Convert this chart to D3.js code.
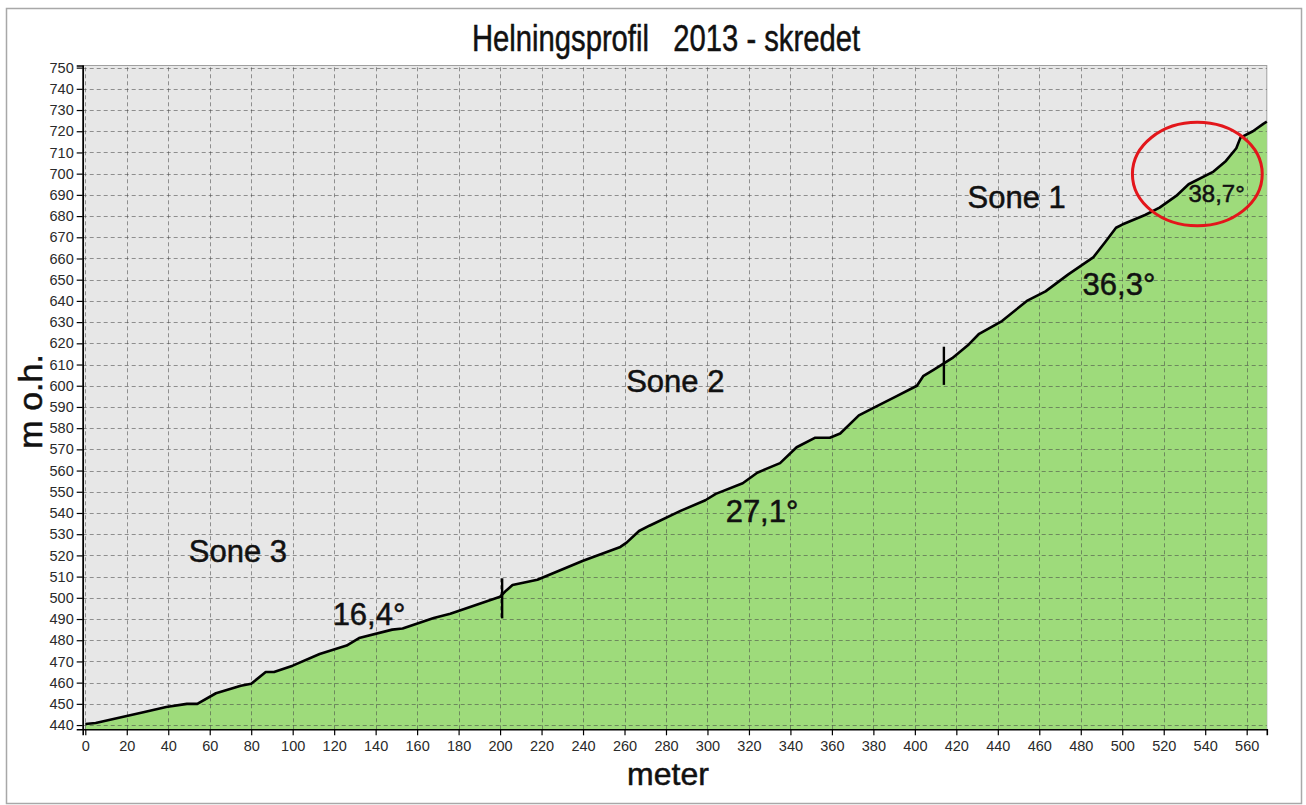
<!DOCTYPE html>
<html>
<head>
<meta charset="utf-8">
<script src="https://cdn.jsdelivr.net/npm/d3@7"></script>
<style>
  html, body { margin: 0; padding: 0; background: #fff; }
  text { font-family: "Liberation Sans", Arial, sans-serif; }
</style>
</head>
<body>
<div class="profil"></div>
<script>
// terrain profile: distance (m) and height (m o.h.)
var distance = [0, 5, 28, 39, 49, 54, 63, 75, 80, 87, 91, 100, 113, 126, 132, 148, 153, 168, 176, 200,
    203, 206, 218, 240, 258, 261, 267, 272, 287, 299, 304, 317, 324, 335, 343, 352, 359, 364, 373, 381,
    391, 401, 404, 409, 418, 426, 431, 442, 454, 463, 474, 486, 492, 497, 500, 511, 518, 526, 532, 544,
    550, 555, 557, 563, 568, 569.7];
var height = [440.5, 441, 446, 448.5, 450, 450, 455, 458.5, 459.5, 465, 465, 468, 473.5, 477.5, 481, 485, 485.5, 490.5, 492.5, 500.5,
    503.5, 506, 508.5, 517.5, 524, 526, 531.5, 534, 541, 546, 549, 554, 559, 563.5, 571, 575.5, 575.5, 577.5, 586, 590,
    595, 600, 604.5, 607.5, 613, 619.5, 624.5, 630.5, 640, 644.5, 652.5, 660.5, 668, 674.5, 676, 680.5, 684, 689.5, 695, 701,
    706, 712, 717, 720, 723.5, 724.5];

var xTicks = d3.range(0, 561, 20);
var yTicks = d3.range(440, 751, 10);

// zone labels and slope angles (data coords)
var labelText = ['Sone 3', 'Sone 2', 'Sone 1', '16,4°', '27,1°', '36,3°', '38,7°'];
var labelX = [73.6, 284.5, 449.1, 136.8, 326.3, 498.4, 545.5];
var labelY = [516.9, 597.2, 683.7, 487.2, 535.9, 642.8, 686.8];

// zone border marks
var markX = [201, 414];
var markLow = [490.3, 600.4];
var markHigh = [509.2, 618.4];

// red ring round the steepest part
var ringCenter = [536.2, 699.8];
var ringRadius = [31.3, 24.4];

var width = 1306;
var height2 = 805;
var margin = { top: 65.5, right: 39.2, bottom: 75.7, left: 82.7 };

var svg = d3.select('.profil')
    .append('svg')
    .attr('width', width)
    .attr('height', height2);

// outer frame
svg.append('rect')
    .attr('x', 6.5).attr('y', 8.5)
    .attr('width', 1295).attr('height', 795)
    .attr('fill', 'none')
    .attr('stroke', '#a8a8a8')
    .attr('stroke-width', 1.5);

var x = d3.scaleLinear()
    .domain([-1.25, 569.7])
    .range([margin.left, width - margin.right]);
var y = d3.scaleLinear()
    .domain([438, 751])
    .range([height2 - margin.bottom, margin.top]);

var points = distance.map(function(d, i) { return [d, height[i]]; });

// plot background
svg.append('rect')
    .attr('x', x.range()[0]).attr('y', y.range()[1])
    .attr('width', x.range()[1] - x.range()[0])
    .attr('height', y.range()[0] - y.range()[1])
    .attr('fill', '#e7e7e7')
    .attr('stroke', '#a0a0a0')
    .attr('stroke-width', 1);

var area = d3.area()
    .x(function(d) { return x(d[0]); })
    .y0(y(438))
    .y1(function(d) { return y(d[1]); });
svg.append('path')
    .datum(points)
    .attr('d', area)
    .attr('fill', '#9edb7b');

// grid
var grid = svg.append('g')
    .attr('stroke', 'rgba(70,70,70,0.55)')
    .attr('stroke-width', 1)
    .attr('stroke-dasharray', '4,3');
grid.selectAll('.gx')
    .data(xTicks)
    .enter()
    .append('line')
    .attr('x1', function(d) { return Math.round(x(d)) + 0.5; })
    .attr('x2', function(d) { return Math.round(x(d)) + 0.5; })
    .attr('y1', y.range()[0])
    .attr('y2', y.range()[1]);
grid.selectAll('.gy')
    .data(yTicks)
    .enter()
    .append('line')
    .attr('x1', x.range()[0])
    .attr('x2', x.range()[1])
    .attr('y1', function(d) { return Math.round(y(d)) + 0.5; })
    .attr('y2', function(d) { return Math.round(y(d)) + 0.5; });

var line = d3.line()
    .x(function(d) { return x(d[0]); })
    .y(function(d) { return y(d[1]); });
svg.append('path')
    .datum(points)
    .attr('d', line)
    .attr('fill', 'none')
    .attr('stroke', '#000')
    .attr('stroke-width', 2.6)
    .attr('stroke-linejoin', 'round');

// axes
var xAxis = d3.axisBottom(x).tickValues(xTicks).tickSize(6).tickPadding(3);
var yAxis = d3.axisLeft(y).tickValues(yTicks).tickSize(6).tickPadding(3);

var gx = svg.append('g')
    .attr('transform', 'translate(0,' + y.range()[0] + ')')
    .call(xAxis);
var gy = svg.append('g')
    .attr('transform', 'translate(' + x.range()[0] + ',0)')
    .call(yAxis);
[gx, gy].forEach(function(g) {
    g.select('.domain').attr('stroke', '#000').attr('stroke-width', 1.6);
    g.selectAll('.tick line').attr('stroke', '#000').attr('stroke-width', 1.2);
    g.selectAll('.tick text')
        .attr('fill', '#2a2a2a')
        .style('font-family', '"Liberation Sans", Arial, sans-serif')
        .style('font-size', '14.5px');
});
gx.selectAll('.tick text').attr('dy', '0.85em');

// zone marks
svg.selectAll('.mark')
    .data(markX)
    .enter()
    .append('line')
    .attr('x1', function(d) { return x(d); })
    .attr('x2', function(d) { return x(d); })
    .attr('y1', function(d, i) { return y(markLow[i]); })
    .attr('y2', function(d, i) { return y(markHigh[i]); })
    .attr('stroke', '#000')
    .attr('stroke-width', 2.4);

// labels
svg.selectAll('.lbl')
    .data(labelText)
    .enter()
    .append('text')
    .attr('x', function(d, i) { return x(labelX[i]); })
    .attr('y', function(d, i) { return y(labelY[i]); })
    .attr('text-anchor', 'middle')
    .style('font-size', function(d, i) { return i === 6 ? '24px' : '31px'; })
    .attr('fill', '#111')
    .attr('stroke', '#111')
    .attr('stroke-width', 0.5)
    .text(function(d) { return d; });

// ring
svg.append('ellipse')
    .attr('cx', x(ringCenter[0]))
    .attr('cy', y(ringCenter[1]))
    .attr('rx', x(ringCenter[0] + ringRadius[0]) - x(ringCenter[0]))
    .attr('ry', y(ringCenter[1]) - y(ringCenter[1] + ringRadius[1]))
    .attr('fill', 'none')
    .attr('stroke', '#e3161b')
    .attr('stroke-width', 3);

// title and axis titles
svg.append('text')
    .attr('x', 666)
    .attr('y', 51)
    .attr('text-anchor', 'middle')
    .attr('textLength', 388)
    .attr('lengthAdjust', 'spacingAndGlyphs')
    .style('font-size', '36px')
    .style('white-space', 'pre')
    .attr('fill', '#111')
    .attr('stroke', '#111')
    .attr('stroke-width', 0.5)
    .text('Helningsprofil   2013 - skredet');

svg.append('text')
    .attr('transform', 'translate(42,' + ((y.range()[0] + y.range()[1]) / 2 + 4) + ') rotate(-90)')
    .attr('text-anchor', 'middle')
    .style('font-size', '34px')
    .attr('fill', '#111')
    .attr('stroke', '#111')
    .attr('stroke-width', 0.5)
    .text('m o.h.');

svg.append('text')
    .attr('x', 668)
    .attr('y', 785)
    .attr('text-anchor', 'middle')
    .style('font-size', '32px')
    .attr('fill', '#111')
    .attr('stroke', '#111')
    .attr('stroke-width', 0.5)
    .text('meter');
</script>
</body>
</html>
